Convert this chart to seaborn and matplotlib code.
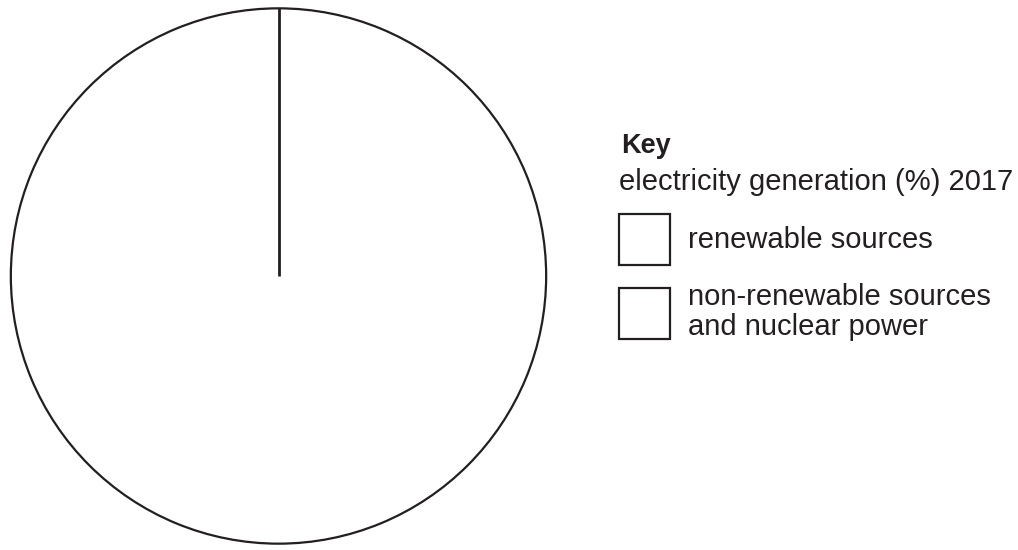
import matplotlib
matplotlib.use("Agg")
import matplotlib.pyplot as plt
import matplotlib.patches as mpatches
import seaborn as sns

# data: blank exam-style pie, the shares are left for the reader to fill in
categories = ["renewable sources", "non-renewable sources\nand nuclear power"]
total = [100]
key_title = "Key"
key_subtitle = "electricity generation (%) 2017"

sns.set_theme(style="white")
plt.rcParams["font.family"] = ["Liberation Sans", "DejaVu Sans"]
ink = "#231f20"

W, H = 1018, 550
fig = plt.figure(figsize=(W / 100, H / 100), dpi=100)

# pie area: centre ~ (278.5, 276) px, radius ~ 269 px
cx, cy, r = 278.5, 276, 269
ax = fig.add_axes([(cx - r) / W, (H - cy - r) / H, 2 * r / W, 2 * r / H])
wedges, _ = ax.pie(total, startangle=90, counterclock=False, radius=1,
                   colors=["white"],
                   wedgeprops=dict(edgecolor=ink, linewidth=1.6))
# start line of the pie (from centre up to the rim)
ax.plot([0, 0], [0, 1], color=ink, linewidth=2, solid_capstyle="butt")
ax.set_xlim(-1.005, 1.005)
ax.set_ylim(-1.005, 1.005)
ax.set_aspect("equal")
ax.axis("off")

# key
fs = 21
fig.text(621 / W, 1 - 153 / H, key_title, fontsize=19.5, fontweight="bold",
         color=ink, ha="left", va="baseline")
handles = [mpatches.Patch(facecolor="white", edgecolor=ink, linewidth=1.6, label=c)
           for c in categories]
leg = fig.legend(handles=handles, loc="upper left",
                 bbox_to_anchor=(619 / W, 1 - 168 / H),
                 frameon=False, fontsize=fs, title=key_subtitle,
                 title_fontsize=fs, alignment="left",
                 handlelength=1.75, handleheight=2.31, handletextpad=0.62,
                 labelspacing=0.61, borderpad=0, borderaxespad=0)
for t in leg.get_texts():
    t.set_color(ink)
    t.set_linespacing(1.1)
leg.get_title().set_color(ink)

fig.savefig("out.png", dpi=100, facecolor="white")
